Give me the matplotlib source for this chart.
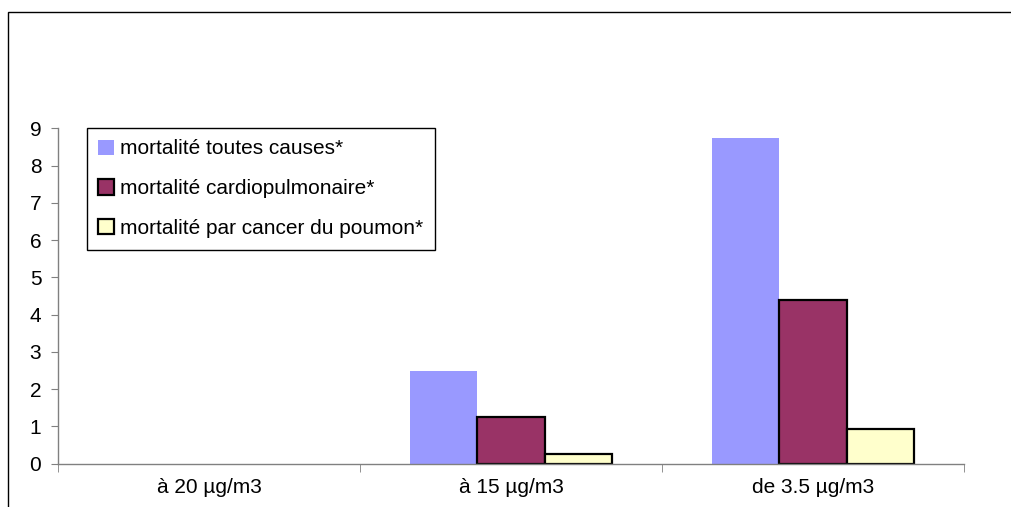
import numpy as np
import matplotlib
matplotlib.use("Agg")
import matplotlib.pyplot as plt
from matplotlib.patches import Rectangle

plt.rcParams['font.family'] = ['Liberation Sans', 'DejaVu Sans']

# data
categories = ["à 20 µg/m3", "à 15 µg/m3", "de 3.5 µg/m3"]
series_names = ["mortalité toutes causes*",
                "mortalité cardiopulmonaire*",
                "mortalité par cancer du poumon*"]
toutes_causes = [0.0, 2.5, 8.75]
cardiopulmonaire = [0.0, 1.26, 4.4]
cancer_poumon = [0.0, 0.26, 0.94]
y_ticks = [0, 1, 2, 3, 4, 5, 6, 7, 8, 9]

W, H = 1011, 507
fs = 15
grey = "#808080"

fig = plt.figure(figsize=(W / 100, H / 100), dpi=100)

# outer chart frame (cut by the picture edge on the right and bottom)
fig.patches.append(Rectangle((8 / W, -0.02), 1.05, 1 - 12 / H + 0.02,
                             transform=fig.transFigure, fill=False,
                             edgecolor="black", linewidth=1.0))

ax = fig.add_axes([58 / W, 1 - 463.7 / H, (964 - 58) / W, (463.7 - 128.3) / H])

x = np.arange(len(categories))
bw = 0.222


def draw_series(values, offset, **kw):
    # empty values (zero) are not drawn, as in the reference
    vals = np.array(values)
    keep = vals > 0
    return ax.bar(x[keep] + offset, vals[keep], bw, **kw)


draw_series(toutes_causes, -bw, color="#9999FF", linewidth=0, label=series_names[0])
draw_series(cardiopulmonaire, 0, color="#993366", edgecolor="black", linewidth=1.6,
            label=series_names[1])
draw_series(cancer_poumon, bw, color="#FFFFCC", edgecolor="black", linewidth=1.6,
            label=series_names[2])

ax.set_xlim(-0.5, len(categories) - 0.5)
ax.set_ylim(0, 9)
ax.set_yticks(y_ticks)
ax.set_xticks(x)
ax.set_xticklabels(categories)
ax.set_xticks(np.arange(len(categories) + 1) - 0.5, minor=True)
ax.tick_params(axis="x", which="major", length=0, pad=10, labelsize=fs)
ax.tick_params(axis="x", which="minor", length=6, direction="out", color=grey)
ax.tick_params(axis="y", length=5, direction="out", color=grey, labelsize=fs, pad=7)

for side in ["top", "right"]:
    ax.spines[side].set_visible(False)
for side in ["left", "bottom"]:
    ax.spines[side].set_color(grey)
    ax.spines[side].set_linewidth(1.0)

leg = ax.legend(loc="upper left", bbox_to_anchor=(87 / W, 1 - 128 / H),
                bbox_transform=fig.transFigure, fontsize=fs, frameon=True,
                fancybox=False, edgecolor="black", framealpha=1,
                handlelength=0.75, handleheight=0.75, handletextpad=0.3,
                labelspacing=1.0, borderpad=0.55, borderaxespad=0)
leg.get_frame().set_linewidth(1.0)

fig.savefig("out.png", dpi=100)
